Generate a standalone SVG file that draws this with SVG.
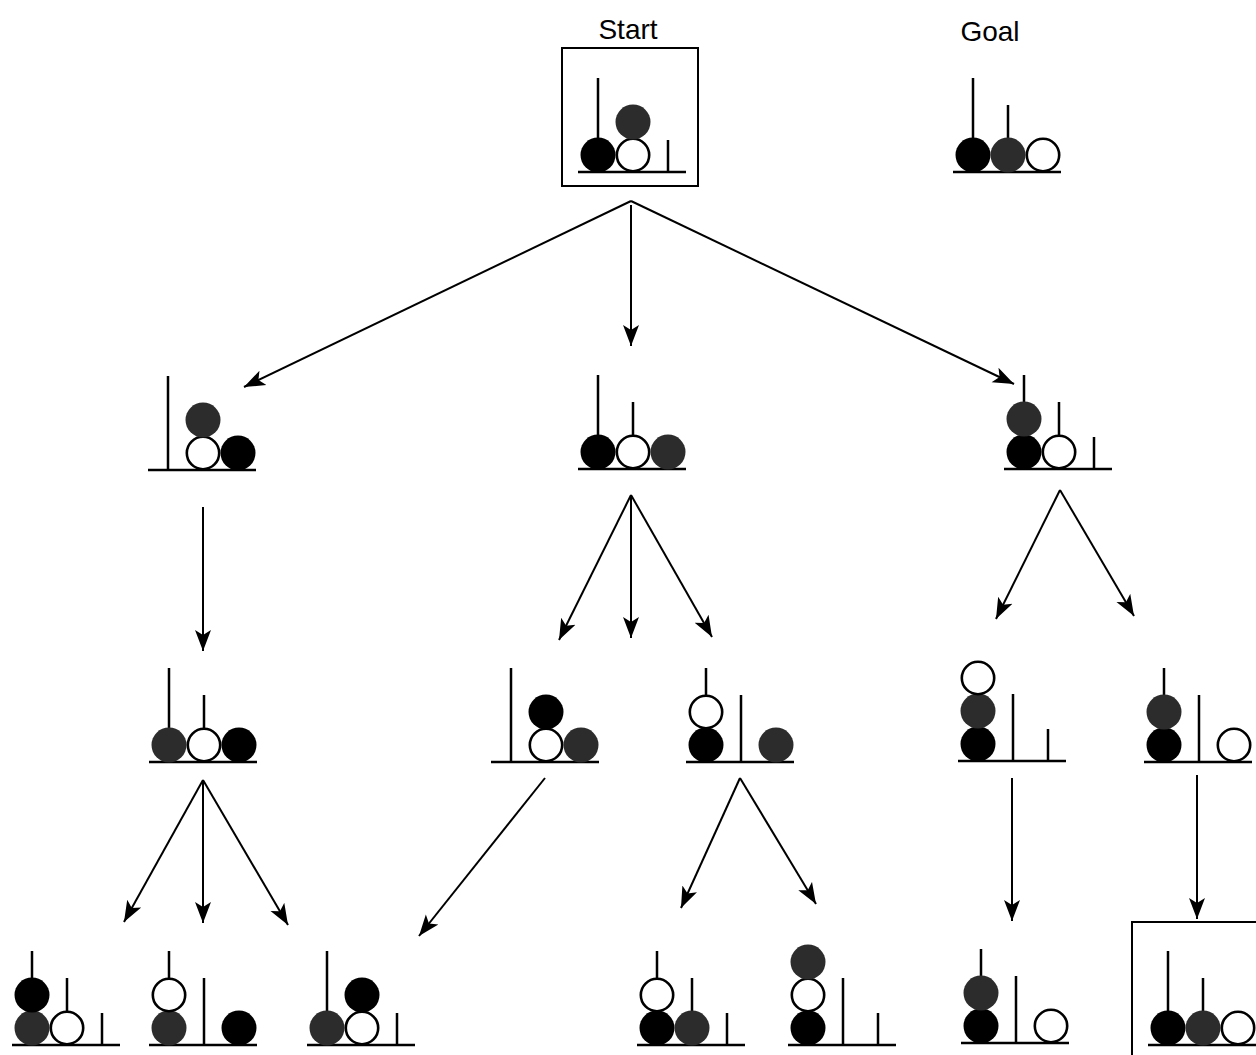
<svg xmlns="http://www.w3.org/2000/svg" width="1256" height="1055" viewBox="0 0 1256 1055">
<style>
.peg{stroke:#000;stroke-width:2.5;fill:none}
.base{stroke:#000;stroke-width:2.5;fill:none}
.b{fill:#000}
.g{fill:#2c2c2c}
.w{fill:#fff;stroke:#000;stroke-width:2.6}
.box{fill:none;stroke:#000;stroke-width:2}
.lbl{font-family:"Liberation Sans",Arial,sans-serif;font-size:28px;fill:#000;text-anchor:middle}
.edge{stroke:#000;stroke-width:2;fill:none;marker-end:url(#ah)}
</style>
<defs>
<marker id="ah" markerUnits="userSpaceOnUse" markerWidth="24" markerHeight="18" viewBox="0 -9 24 18" refX="21" refY="0" orient="auto">
<path d="M0,-8 L21,0 L0,8 L5,0 z" fill="#000"/>
</marker>
</defs>
<rect width="1256" height="1055" fill="#fff"/>
<text class="lbl" x="628" y="39">Start</text>
<text class="lbl" x="990" y="41">Goal</text>

<g id="start">
<rect class="box" x="562" y="48" width="136" height="138"/>
<path class="peg" d="M598,78V172M633,105V172M668,140V172"/>
<path class="base" d="M578,172H686"/>
<circle class="b" cx="598" cy="155" r="17.5"/>
<circle class="w" cx="633" cy="155" r="16.2"/>
<circle class="g" cx="633" cy="122" r="17.5"/>
</g>

<g id="goal">
<path class="peg" d="M973,78V172M1008,105V172M1043,140V172"/>
<path class="base" d="M953,172H1061"/>
<circle class="b" cx="973" cy="155" r="17.5"/>
<circle class="g" cx="1008" cy="155" r="17.5"/>
<circle class="w" cx="1043" cy="155" r="16.2"/>
</g>

<g id="nA">
<path class="peg" d="M168,376V470M203,403V470M238,438V470"/>
<path class="base" d="M148,470H256"/>
<circle class="w" cx="203" cy="453" r="16.2"/>
<circle class="g" cx="203" cy="420" r="17.5"/>
<circle class="b" cx="238" cy="453" r="17.5"/>
</g>

<g id="nB">
<path class="peg" d="M598,375V469M633,402V469M668,437V469"/>
<path class="base" d="M578,469H686"/>
<circle class="b" cx="598" cy="452" r="17.5"/>
<circle class="w" cx="633" cy="452" r="16.2"/>
<circle class="g" cx="668" cy="452" r="17.5"/>
</g>

<g id="nC">
<path class="peg" d="M1024,375V469M1059,402V469M1094,437V469"/>
<path class="base" d="M1004,469H1112"/>
<circle class="b" cx="1024" cy="452" r="17.5"/>
<circle class="g" cx="1024" cy="419" r="17.5"/>
<circle class="w" cx="1059" cy="452" r="16.2"/>
</g>

<g id="nD">
<path class="peg" d="M169,668V762M204,695V762M239,730V762"/>
<path class="base" d="M149,762H257"/>
<circle class="g" cx="169" cy="745" r="17.5"/>
<circle class="w" cx="204" cy="745" r="16.2"/>
<circle class="b" cx="239" cy="745" r="17.5"/>
</g>

<g id="nE">
<path class="peg" d="M511,668V762M546,695V762M581,730V762"/>
<path class="base" d="M491,762H599"/>
<circle class="w" cx="546" cy="745" r="16.2"/>
<circle class="b" cx="546" cy="712" r="17.5"/>
<circle class="g" cx="581" cy="745" r="17.5"/>
</g>

<g id="nF">
<path class="peg" d="M706,668V762M741,695V762M776,730V762"/>
<path class="base" d="M686,762H794"/>
<circle class="b" cx="706" cy="745" r="17.5"/>
<circle class="w" cx="706" cy="712" r="16.2"/>
<circle class="g" cx="776" cy="745" r="17.5"/>
</g>

<g id="nG">
<path class="peg" d="M978,667V761M1013,694V761M1048,729V761"/>
<path class="base" d="M958,761H1066"/>
<circle class="b" cx="978" cy="744" r="17.5"/>
<circle class="g" cx="978" cy="711" r="17.5"/>
<circle class="w" cx="978" cy="678" r="16.2"/>
</g>

<g id="nH">
<path class="peg" d="M1164,668V762M1199,695V762M1234,730V762"/>
<path class="base" d="M1144,762H1252"/>
<circle class="b" cx="1164" cy="745" r="17.5"/>
<circle class="g" cx="1164" cy="712" r="17.5"/>
<circle class="w" cx="1234" cy="745" r="16.2"/>
</g>

<g id="nI">
<path class="peg" d="M32,951V1045M67,978V1045M102,1013V1045"/>
<path class="base" d="M12,1045H120"/>
<circle class="g" cx="32" cy="1028" r="17.5"/>
<circle class="b" cx="32" cy="995" r="17.5"/>
<circle class="w" cx="67" cy="1028" r="16.2"/>
</g>

<g id="nJ">
<path class="peg" d="M169,951V1045M204,978V1045M239,1013V1045"/>
<path class="base" d="M149,1045H257"/>
<circle class="g" cx="169" cy="1028" r="17.5"/>
<circle class="w" cx="169" cy="995" r="16.2"/>
<circle class="b" cx="239" cy="1028" r="17.5"/>
</g>

<g id="nK">
<path class="peg" d="M327,951V1045M362,978V1045M397,1013V1045"/>
<path class="base" d="M307,1045H415"/>
<circle class="g" cx="327" cy="1028" r="17.5"/>
<circle class="w" cx="362" cy="1028" r="16.2"/>
<circle class="b" cx="362" cy="995" r="17.5"/>
</g>

<g id="nL">
<path class="peg" d="M657,951V1045M692,978V1045M727,1013V1045"/>
<path class="base" d="M637,1045H745"/>
<circle class="b" cx="657" cy="1028" r="17.5"/>
<circle class="w" cx="657" cy="995" r="16.2"/>
<circle class="g" cx="692" cy="1028" r="17.5"/>
</g>

<g id="nM">
<path class="peg" d="M808,951V1045M843,978V1045M878,1013V1045"/>
<path class="base" d="M788,1045H896"/>
<circle class="b" cx="808" cy="1028" r="17.5"/>
<circle class="w" cx="808" cy="995" r="16.2"/>
<circle class="g" cx="808" cy="962" r="17.5"/>
</g>

<g id="nN">
<path class="peg" d="M981,949V1043M1016,976V1043M1051,1011V1043"/>
<path class="base" d="M961,1043H1069"/>
<circle class="b" cx="981" cy="1026" r="17.5"/>
<circle class="g" cx="981" cy="993" r="17.5"/>
<circle class="w" cx="1051" cy="1026" r="16.2"/>
</g>

<g id="nO">
<rect class="box" x="1132" y="922" width="200" height="200"/>
<path class="peg" d="M1168,951V1045M1203,978V1045M1238,1013V1045"/>
<path class="base" d="M1148,1045H1256"/>
<circle class="b" cx="1168" cy="1028" r="17.5"/>
<circle class="g" cx="1203" cy="1028" r="17.5"/>
<circle class="w" cx="1238" cy="1028" r="16.2"/>
</g>

<g id="connectors">
<path class="edge" d="M631,201L244,387"/>
<path class="edge" d="M631,205L631,346"/>
<path class="edge" d="M631,201L1014,384"/>
<path class="edge" d="M203,507L203,651"/>
<path class="edge" d="M631,495L559,640"/>
<path class="edge" d="M631,495L631,638"/>
<path class="edge" d="M631,495L712,637"/>
<path class="edge" d="M1060,490L996,619"/>
<path class="edge" d="M1060,490L1134,616"/>
<path class="edge" d="M203,780L124,922"/>
<path class="edge" d="M203,780L203,923"/>
<path class="edge" d="M203,780L288,925"/>
<path class="edge" d="M545,778L419,936"/>
<path class="edge" d="M740,778L681,908"/>
<path class="edge" d="M740,778L816,904"/>
<path class="edge" d="M1012,778L1012,921"/>
<path class="edge" d="M1197,775L1197,919"/>
</g>
</svg>
